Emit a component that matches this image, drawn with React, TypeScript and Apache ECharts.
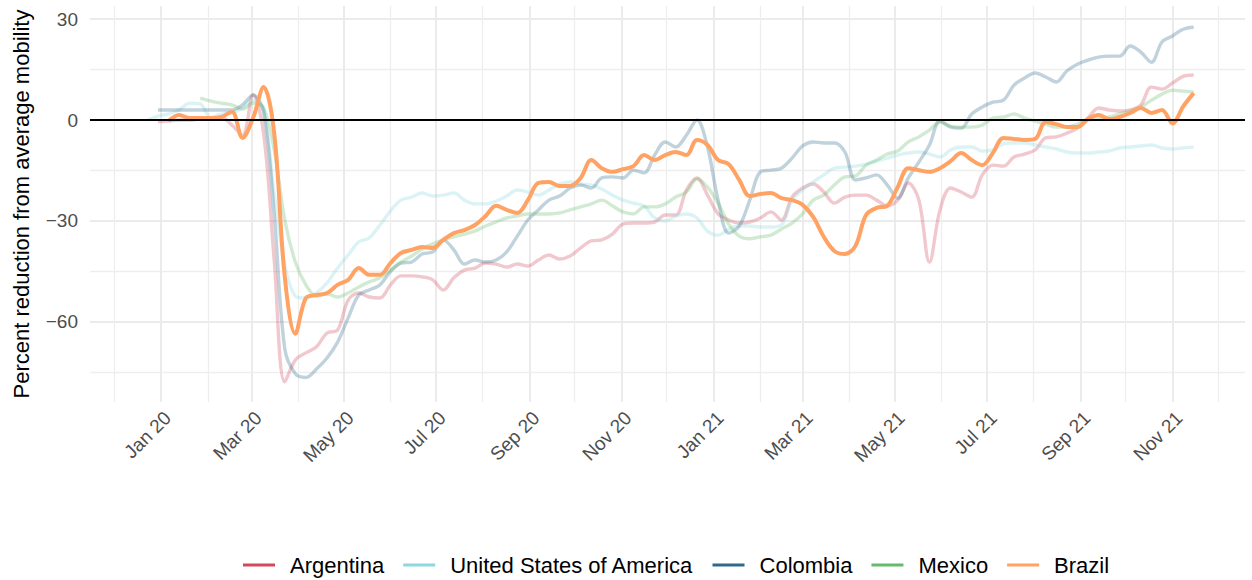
import React, { useEffect, useRef } from "react";
import * as echarts from "echarts";

// ---- Data (weekly samples starting 2019-12-23) ----
const sampleStart = [2019, 11, 23]; // year, monthIndex, day
const sampleStepDays = 7;

const argentina = [
  null, -0.5, -0.3, 0, 0, 0.3, 0.3, 0.9, -1.5, -4.5,
  7.5, -4, -41.6, -77.8, -71.3, -69.2, -67.4, -63.3, -62.4, -53.5,
  -51.4, -52.6, -52.9, -49, -46.3, -46.3, -46.6, -47.5, -50.5, -46.9,
  -44.6, -44, -42.5, -42.8, -43.7, -42.8, -43.4, -41.6, -40.1, -41.3,
  -40.4, -38, -35.9, -35.6, -33.9, -30.9, -30.6, -30.6, -30.3, -28.2,
  -28.2, -20.8, -17.2, -22.3, -27.9, -29.7, -30.6, -30.3, -29.1, -27.3,
  -29.7, -22.9, -20.2, -19, -21.4, -24.7, -22.9, -22.3, -22.3, -23.8,
  -25.5, -23.8, -18.7, -23.8, -42.2, -26.7, -20.2, -21.4, -22.9, -16.3,
  -13.4, -13.7, -11, -10.1, -8.9, -5.3, -5, -3.9, -2.4, 0.6,
  3.6, 3, 2.7, 3, 4.5, 9.8, 9.2, 11, 13, 13.4,
];

const usa = [
  0, 1.2, 1.8, 3, 5, 4.8, 0.6, 1.8, 2.1, 3.6,
  5.9, 3, -22, -43, -52.3, -52.9, -51.4, -48.4, -44, -40.1,
  -36.2, -35, -31.2, -27, -23.8, -22.9, -21.7, -22.6, -22.3, -21.7,
  -23.8, -24.9, -24.9, -24.1, -22.6, -20.8, -21.4, -22.3, -20.8, -19,
  -18.4, -19, -19.3, -20.5, -22.3, -23.8, -24.7, -25.5, -29.1, -30,
  -28.5, -27.9, -29.1, -33, -34.2, -32.4, -31.5, -31.5, -31.8, -31.8,
  -31.2, -23.8, -20.8, -18.4, -16.3, -14.3, -14, -13.7, -13.1, -12.2,
  -11.3, -10.4, -9.8, -9.5, -10.1, -11, -8.9, -8, -8, -9.2,
  -8.9, -7.1, -6.8, -6.8, -7.4, -8, -8.6, -9.5, -9.8, -9.8,
  -9.5, -9.2, -8.3, -8, -7.7, -7.4, -8.3, -8.6, -8.3, -8,
];

const colombia = [
  null, 3, 3, 3, 3, 3, 3, 3, 3, 4.5,
  7.4, 2.4, -28, -68, -75.4, -76.5, -74, -70.7, -66, -58.8,
  -52, -50.5, -49, -45, -42.5, -42.2, -39.8, -39.2, -35.6, -38.6,
  -42.8, -41.6, -42.2, -41.6, -39.2, -34.5, -29.7, -26.7, -23.8, -22.6,
  -20.2, -19.3, -20.2, -17.2, -16.9, -17.2, -14.9, -15.7, -10.4, -6.5,
  -8, -4.5, 0, -8, -23.8, -33.6, -31.5, -23.8, -15.4, -14.9,
  -14.3, -11.3, -7.7, -6.5, -6.8, -6.8, -9.5, -17.8, -17.2, -16.3,
  -19.3, -23.2, -17.2, -12.5, -7.4, -0.3, -2.1, -2.4, 1.8, 3.9,
  5.3, 5.9, 10.4, 12.5, 14, 12.8, 11.3, 14.6, 16.6, 17.8,
  18.7, 19, 19, 22, 20.2, 17.2, 23.2, 25, 27, 27.6,
];

const mexico = [
  null, null, null, null, null, 6.5, 5.6, 5, 4.5, 3.3,
  5, 3.6, -8.9, -29.7, -42.2, -49, -52.3, -51.7, -52.6, -51.4,
  -49.6, -48.1, -46.9, -44.6, -42.2, -40.4, -38.3, -36.8, -35.6, -34.7,
  -33.9, -33, -31.5, -30.3, -29.1, -28.5, -27.9, -27.9, -27.9, -27.6,
  -26.7, -25.8, -24.9, -23.8, -25.5, -27.3, -27.9, -25.8, -25.8, -24.9,
  -22.9, -21.4, -17.5, -19.9, -24.7, -30.9, -34.5, -35.3, -34.7, -34.2,
  -32.4, -30.6, -27.9, -23.8, -22.3, -19.3, -16.9, -16.6, -13.4, -11.9,
  -10.1, -9.2, -6.5, -5, -3, -0.6, -1.8, -2.1, -2.1, -1.5,
  0.6, 0.9, 1.8, 0.6, -0.3, -1.2, -2.1, -2.1, -1.2, 0,
  0.3, 0.9, 1.8, 2.7, 3.9, 5.9, 7.7, 8.9, 8.6, 8.3,
];

const brazil = [
  null, null, -0.3, 1.5, 0.6, 0.6, 0.6, 0.9, 2.5, -5.3,
  0.6, 9.8, -3.9, -46.6, -63.5, -52.9, -52, -51.4, -49, -47.5,
  -44, -46, -46, -42.5, -39.5, -38.6, -37.7, -38, -35.6, -33.6,
  -32.7, -31.2, -28.5, -25.5, -26.7, -27.6, -23.8, -18.7, -18.4, -19.6,
  -19.6, -17.2, -11.9, -14.3, -15.4, -14.6, -13.7, -10.4, -11.9, -10.4,
  -9.5, -10.4, -5.9, -7.4, -11.9, -13.1, -17.8, -22.6, -22, -21.7,
  -23.2, -23.8, -25.2, -28.8, -34.7, -38.9, -39.8, -37.4, -28.2, -26.1,
  -25.5, -19.9, -14.3, -14.9, -15.4, -14.3, -12.2, -9.8, -11.9, -13.4,
  -9.8, -5.3, -5.6, -5.9, -5.6, -0.6, -1.2, -2.1, -2.1, 0.3,
  1.5, 0.3, 0.9, 2.1, 3.6, 2.1, 3, -1, 4, 8,
];

const seriesNames = ["Argentina", "United States of America", "Colombia", "Mexico", "Brazil"];
const seriesColors = ["#D1495B", "#8BD8E0", "#2E6A8A", "#66BB6A", "#FFA263"];

const majorTickDates = [
  "2020-01-01", "2020-03-01", "2020-05-01", "2020-07-01", "2020-09-01", "2020-11-01",
  "2021-01-01", "2021-03-01", "2021-05-01", "2021-07-01", "2021-09-01", "2021-11-01",
];
const majorTickLabels = [
  "Jan 20", "Mar 20", "May 20", "Jul 20", "Sep 20", "Nov 20",
  "Jan 21", "Mar 21", "May 21", "Jul 21", "Sep 21", "Nov 21",
];
const minorTickDates = [
  "2019-12-01", "2020-02-01", "2020-04-01", "2020-06-01", "2020-08-01", "2020-10-01", "2020-12-01",
  "2021-02-01", "2021-04-01", "2021-06-01", "2021-08-01", "2021-10-01", "2021-12-01",
];
const yMajorTicks = [-60, -30, 0, 30];
const yMinorTicks = [-75, -45, -15, 15];
const xRange = ["2019-11-15", "2021-12-19"];
const yRange = [-83.8, 33.9];

const yTitle = "Percent reduction from average mobility";

function parseDate(s: string): number {
  const [y, m, d] = s.split("-").map(Number);
  return new Date(y, m - 1, d).getTime();
}

export default function App() {
  const ref = useRef<HTMLDivElement>(null);

  useEffect(() => {
    document.body.style.margin = "0";
    if (!ref.current) return;
    const chart = echarts.init(ref.current, undefined, { renderer: "svg" });

    const font = "Liberation Sans, Arial, Helvetica, sans-serif";
    const sampleTime = (k: number) =>
      new Date(sampleStart[0], sampleStart[1], sampleStart[2] + sampleStepDays * k).getTime();

    const allValues = [argentina, usa, colombia, mexico, brazil];
    const majorTimes = majorTickDates.map(parseDate);
    const minorTimes = minorTickDates.map(parseDate);
    const labelFor = (v: number) => {
      let best = 0;
      let bestD = Infinity;
      majorTimes.forEach((t, i) => {
        const d = Math.abs(t - v);
        if (d < bestD) { bestD = d; best = i; }
      });
      return majorTickLabels[best];
    };

    const series: any[] = allValues.map((vals, si) => {
      const isBrazil = si === 4;
      const data = vals
        .map((v, k) => (v === null ? null : [sampleTime(k), v]))
        .filter((p) => p !== null);
      const s: any = {
        name: seriesNames[si],
        type: "line",
        data,
        smooth: 0.35,
        showSymbol: false,
        symbol: "none",
        color: seriesColors[si],
        lineStyle: {
          color: seriesColors[si],
          width: isBrazil ? 4 : 3.4,
          opacity: isBrazil ? 1 : 0.3,
          cap: "butt",
        },
        emphasis: { disabled: true },
        z: isBrazil ? 4 : 3,
      };
      if (si === 0) {
        s.markLine = {
          silent: true,
          symbol: ["none", "none"],
          label: { show: false },
          lineStyle: { color: "#000000", width: 2.2, type: "solid", opacity: 1 },
          emphasis: { disabled: true },
          data: [{ yAxis: 0 }],
        };
      }
      return s;
    });

    const option: any = {
      animation: false,
      backgroundColor: "#ffffff",
      textStyle: { fontFamily: font },
      grid: { left: 90, right: 7, top: 6, bottom: 178, containLabel: false, outerBoundsMode: "none" },
      legend: {
        left: 238,
        top: 549,
        icon: "rect",
        itemWidth: 32,
        itemHeight: 3,
        itemGap: 19,
        data: seriesNames,
        textStyle: { fontSize: 22, color: "#000000", fontFamily: font, padding: [0, 0, 0, 10] },
        selectedMode: false,
      },
      xAxis: [
        {
          type: "value",
          min: parseDate(xRange[0]),
          max: parseDate(xRange[1]),
          axisLine: { show: false },
          axisTick: { show: false, customValues: majorTimes },
          axisLabel: {
            customValues: majorTimes,
            rotate: 45,
            margin: 6,
            verticalAlign: "top",
            fontSize: 19,
            color: "#4D4D4D",
            fontFamily: font,
            hideOverlap: false,
            formatter: (v: number) => labelFor(v),
          },
          splitLine: { show: true, lineStyle: { color: "#EBEBEB", width: 2 } },
        },
        {
          type: "value",
          min: parseDate(xRange[0]),
          max: parseDate(xRange[1]),
          axisLine: { show: false },
          axisTick: { show: false, customValues: minorTimes },
          axisLabel: { show: false, customValues: minorTimes },
          splitLine: { show: true, lineStyle: { color: "#EEEEEE", width: 1.3 } },
        },
      ],
      yAxis: [
        {
          type: "value",
          min: yRange[0],
          max: yRange[1],
          name: yTitle,
          nameLocation: "middle",
          nameRotate: 90,
          nameGap: 58,
          nameTextStyle: { fontSize: 22, color: "#000000", fontFamily: font },
          axisLine: { show: false },
          axisTick: { show: false, customValues: yMajorTicks },
          axisLabel: {
            customValues: yMajorTicks,
            margin: 12,
            fontSize: 19,
            color: "#4D4D4D",
            fontFamily: font,
            formatter: (v: number) => (v < 0 ? "\u2212" + Math.abs(v) : String(v)),
          },
          splitLine: { show: true, lineStyle: { color: "#EBEBEB", width: 2 } },
        },
        {
          type: "value",
          min: yRange[0],
          max: yRange[1],
          axisLine: { show: false },
          axisTick: { show: false, customValues: yMinorTicks },
          axisLabel: { show: false, customValues: yMinorTicks },
          splitLine: { show: true, lineStyle: { color: "#EEEEEE", width: 1.3 } },
        },
      ],
      series,
    };

    chart.setOption(option);
    return () => chart.dispose();
  }, []);

  return <div ref={ref} style={{ width: 1252, height: 580 }} />;
}
